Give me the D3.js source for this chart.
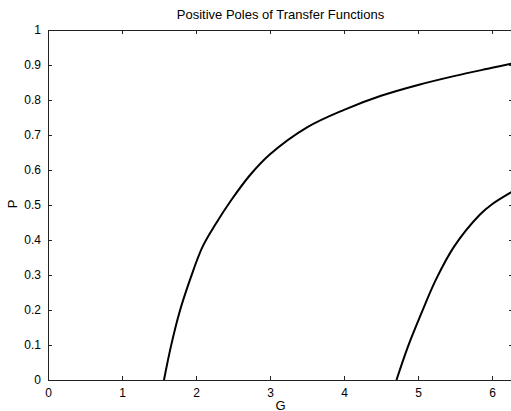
<!DOCTYPE html>
<html>
<head>
<meta charset="utf-8">
<script src="https://cdn.jsdelivr.net/npm/d3@7"></script>
<style>
  html, body { margin: 0; padding: 0; background: #fff; }
  svg { display: block; }
  text { font-family: "Liberation Sans", Arial, Helvetica, sans-serif; fill: #000; }
</style>
</head>
<body>
<div id="chart"></div>
<script>
// values
const g1 = [1.567, 1.661, 1.773, 1.918, 2.089, 2.27, 2.47, 2.728, 3.0, 3.5, 4.0, 4.5, 5.0, 5.5, 6.0, 6.2832];
const p1 = [0, 0.096, 0.191, 0.286, 0.381, 0.447, 0.512, 0.585, 0.645, 0.722, 0.772, 0.812, 0.843, 0.869, 0.892, 0.905];

const g2 = [4.709, 4.865, 5.046, 5.24, 5.487, 5.834, 6.0, 6.216, 6.2832];
const p2 = [0, 0.096, 0.191, 0.286, 0.381, 0.472, 0.502, 0.531, 0.539];

const xTicks = [0, 1, 2, 3, 4, 5, 6];
const yTicks = [0, 0.1, 0.2, 0.3, 0.4, 0.5, 0.6, 0.7, 0.8, 0.9, 1];
const xMax = 6.2832;

const W = 511, H = 411;
const m = { left: 48, top: 30, right: 513, bottom: 380 };

const svg = d3.select("#chart").append("svg")
  .attr("width", W)
  .attr("height", H);

svg.append("rect").attr("width", W).attr("height", H).attr("fill", "#fff");

const x = d3.scaleLinear().domain([0, xMax]).range([m.left, m.right]);
const y = d3.scaleLinear().domain([0, 1]).range([m.bottom, m.top]);

// curves
const line = d3.line()
  .x(d => x(d[0]))
  .y(d => y(d[1]))
  .curve(d3.curveCatmullRom.alpha(0.5));

[[g1, p1], [g2, p2]].forEach(([gs, ps]) => {
  svg.append("path")
    .datum(gs.map((g, i) => [g, ps[i]]))
    .attr("d", line)
    .attr("fill", "none")
    .attr("stroke", "#000")
    .attr("stroke-width", 2);
});

// axes, matlab style: ticks inward on all four sides
const tk = 4;
const axisColor = "#222";

const axBottom = svg.append("g")
  .attr("transform", `translate(0,${m.bottom})`)
  .call(d3.axisBottom(x).tickValues(xTicks).tickSize(-tk).tickPadding(8).tickFormat(d3.format("d")));
const axTop = svg.append("g")
  .attr("transform", `translate(0,${m.top})`)
  .call(d3.axisTop(x).tickValues(xTicks).tickSize(-tk).tickFormat(""));
const axLeft = svg.append("g")
  .attr("transform", `translate(${m.left},0)`)
  .call(d3.axisLeft(y).tickValues(yTicks).tickSize(-tk).tickPadding(7).tickFormat(d => String(+d.toFixed(1))));
const axRight = svg.append("g")
  .attr("transform", `translate(${m.right},0)`)
  .call(d3.axisRight(y).tickValues(yTicks).tickSize(-tk).tickFormat(""));

[axBottom, axTop, axLeft, axRight].forEach(a => {
  a.select(".domain").attr("stroke", axisColor).attr("stroke-width", 1);
  a.selectAll(".tick line").attr("stroke", axisColor);
  a.selectAll("text")
    .style("font-family", '"Liberation Sans", Arial, sans-serif')
    .style("font-size", "12px")
    .attr("fill", "#000");
});

// titles
svg.append("text")
  .attr("x", (m.left + m.right) / 2)
  .attr("y", 19)
  .attr("text-anchor", "middle")
  .style("font-size", "13px")
  .text("Positive Poles of Transfer Functions");

svg.append("text")
  .attr("x", 280.5)
  .attr("y", 409.5)
  .attr("text-anchor", "middle")
  .style("font-size", "13px")
  .text("G");

svg.append("text")
  .attr("transform", "translate(16.5,204) rotate(-90)")
  .attr("text-anchor", "middle")
  .style("font-size", "13px")
  .text("P");
</script>
</body>
</html>
